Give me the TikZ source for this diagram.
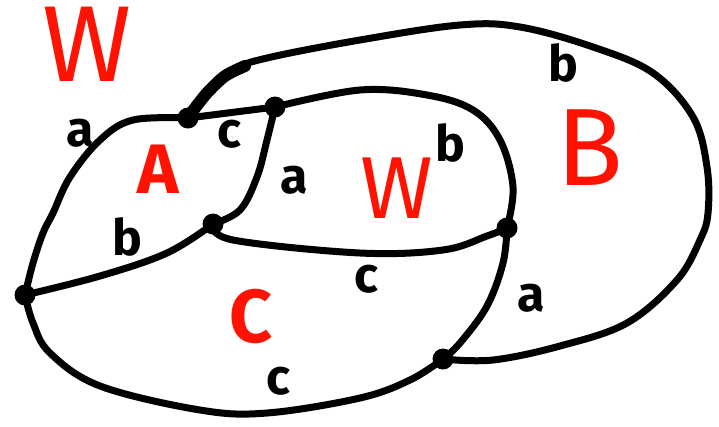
\documentclass[tikz,border=0pt]{standalone}
\usepackage{fontspec}
\setmainfont{Fira Sans}
\begin{document}
\begin{tikzpicture}[x=1pt,y=-1pt,
  edge/.style={line width=7pt,line cap=round,line join=round},
  dot/.style={circle,fill=black,inner sep=0pt,minimum size=21pt},
  redlab/.style={text=red!85!orange,font=\fontsize{#1}{#1}\selectfont,inner sep=0pt},
  blab/.style={text=black,font=\fontsize{50}{50}\selectfont\bfseries,inner sep=0pt}]
\useasboundingbox (0,0) rectangle (719,426);
\fill[white] (0,0) rectangle (719,426);
% vertices
\node[dot] (v1) at (188,118) {};
\node[dot] (v2) at (275,107) {};
\node[dot] (v3) at (213,224) {};
\node[dot] (v4) at (25,295) {};
\node[dot] (v5) at (507,228) {};
\node[dot] (v6) at (443,359) {};
% edges
\draw[edge] plot[smooth,tension=0.6] coordinates {(v4.center) (33,263) (43,233) (53,213) (70,177) (100,140) (133,120) (v1.center)};
\draw[edge] (v1.center) -- (v2.center);
\draw[edge] plot[smooth,tension=0.6] coordinates {(v2.center) (267,140) (257,177) (240,210) (v3.center)};
\draw[edge] plot[smooth,tension=0.6] coordinates {(v2.center) (360,90) (427,95) (473,110) (500,140) (513,187) (v5.center)};
\draw[edge] plot[smooth,tension=0.6] coordinates {(v3.center) (167,253) (100,276) (v4.center)};
\draw[edge] plot[smooth,tension=0.6] coordinates {(v3.center) (233,240) (360,253) (443,250) (487,236) (v5.center)};
\draw[edge] plot[smooth,tension=0.6] coordinates {(v5.center) (503,263) (487,306) (460,343) (v6.center)};
\draw[edge] plot[smooth,tension=0.6] coordinates {(v4.center) (33,323) (50,353) (100,386) (200,410) (267,413) (360,398) (410,380) (v6.center)};
\draw[edge] plot[smooth,tension=0.6] coordinates {(v1.center) (207,93) (233,70) (267,58) (360,40) (460,25) (520,27) (593,47) (653,73) (693,117) (707,167) (708,213) (700,240) (677,280) (627,323) (560,346) (493,360) (v6.center)};
\draw[line width=12pt,line cap=round] plot[smooth] coordinates {(192,112) (207,93) (225,76) (245,66)};
% black labels
\node[blab] (la1) at (80,133) {a};
\node[blab] (lc1) at (229,134) {c};
\node[blab] (la2) at (294,180) {a};
\node[blab] (lb1) at (450,143) {b};
\node[blab] (lb2) at (563,63) {b};
\node[blab] (lb3) at (127,237) {b};
\node[blab] (lc2) at (366,279) {c};
\node[blab] (la3) at (531,298) {a};
\node[blab] (lc3) at (278,381) {c};
% red labels
\node[redlab=108] (W1) at (87,44) {W};
\node[redlab=70,font=\fontsize{70}{70}\selectfont\bfseries] (A) at (158,169) {A};
\node[redlab=88] (W2) at (397,188) {W};
\node[redlab=110] (B) at (590,148) {B};
\node[redlab=75,font=\fontsize{75}{75}\selectfont\bfseries] (C) at (251,317) {C};
\end{tikzpicture}
\end{document}
